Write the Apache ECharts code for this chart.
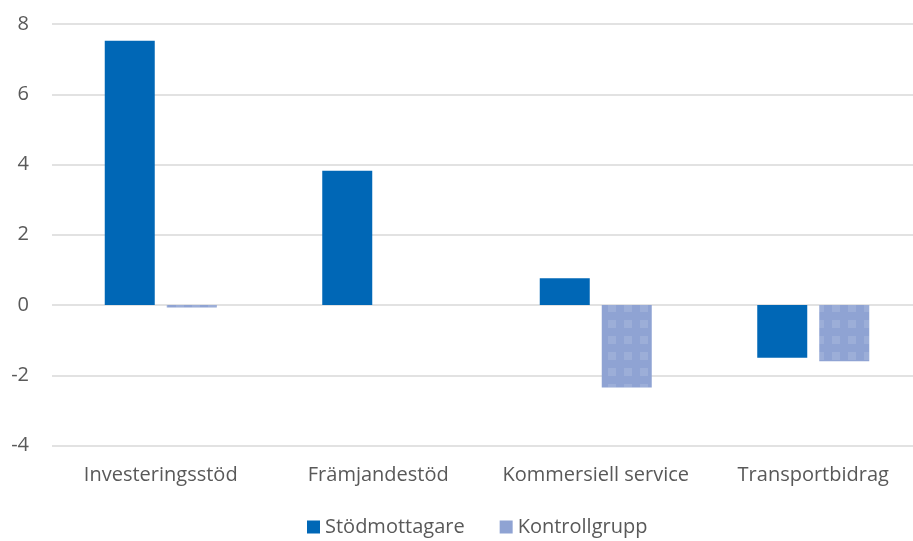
<!DOCTYPE html>
<html>
<head>
<meta charset="utf-8">
<script src="https://cdn.jsdelivr.net/npm/echarts@6/dist/echarts.min.js"></script>
<style>
html,body{margin:0;padding:0;background:#fff;overflow:hidden;width:913px;height:541px;}
#c{width:922px;height:541px;}
</style>
</head>
<body>
<div id="c"></div>
<script>
var categories = ['Investeringsstöd', 'Främjandestöd', 'Kommersiell service', 'Transportbidrag'];
var seriesNames = ['Stödmottagare', 'Kontrollgrupp'];
var stodmottagare = [7.52, 3.82, 0.76, -1.50];
var kontrollgrupp = [-0.07, 0, -2.35, -1.60];
var yTicks = { min: -4, max: 8, interval: 2 };

var chart = echarts.init(document.getElementById('c'), null, { renderer: 'canvas' });
var font = '"Open Sans", Lato, "Liberation Sans", sans-serif';
chart.setOption({
  animation: false,
  backgroundColor: '#ffffff',
  grid: { left: 52, top: 24, right: 0, height: 421.5, containLabel: false },
  legend: {
    top: 512,
    left: 302,
    icon: 'rect',
    itemWidth: 13,
    itemHeight: 13,
    itemGap: 35,
    itemStyle: { decal: 'none' },
    textStyle: { color: '#595959', fontSize: 20, fontFamily: font },
    data: seriesNames
  },
  xAxis: {
    type: 'category',
    data: categories,
    axisLine: { show: false },
    axisTick: { show: false },
    axisLabel: { color: '#595959', fontSize: 20, fontFamily: font, margin: 20, interval: 0 }
  },
  yAxis: {
    type: 'value',
    min: yTicks.min,
    max: yTicks.max,
    interval: yTicks.interval,
    axisLine: { show: false },
    axisTick: { show: false },
    axisLabel: { color: '#595959', fontSize: 20, fontFamily: font, margin: 23 },
    splitLine: { lineStyle: { color: '#d9d9d9', width: 1.5 } }
  },
  series: [
    {
      name: seriesNames[0],
      type: 'bar',
      data: stodmottagare,
      barWidth: 50,
      barGap: '24%',
      itemStyle: { color: '#0067b6' }
    },
    {
      name: seriesNames[1],
      type: 'bar',
      data: kontrollgrupp,
      barWidth: 50,
      itemStyle: {
        color: '#8fa3d3',
        decal: {
          symbol: 'rect',
          symbolSize: 1,
          dashArrayX: [8, 8],
          dashArrayY: [8, 8],
          color: 'rgba(255,255,255,0.12)'
        }
      }
    }
  ]
});
</script>
</body>
</html>
